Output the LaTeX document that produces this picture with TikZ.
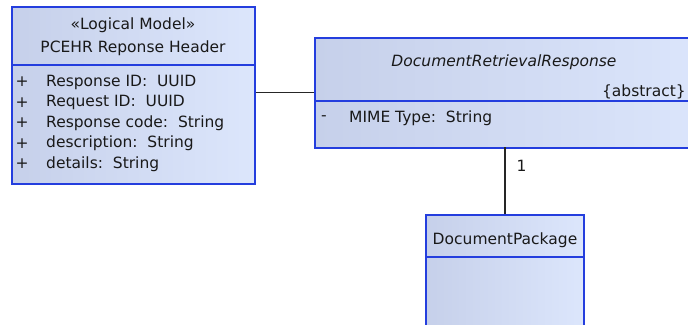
\documentclass[tikz,border=0pt]{standalone}
\usepackage{fontspec}
\setmainfont{DejaVu Sans}
\usetikzlibrary{positioning}

\definecolor{umlblue}{RGB}{36,62,222}
\definecolor{umlshade}{RGB}{198,208,234}
\definecolor{umlfill}{RGB}{220,230,252}

\tikzset{
	classbox/.style={rectangle, draw=umlblue, line width=1.8pt, left color=umlshade, right color=umlfill, inner sep=0pt, anchor=north west},
	divider/.style={draw=umlblue, line width=1.8pt},
	umltext/.style={inner sep=0pt, text=black!90, font=\fontsize{15.5}{18}\selectfont},
	attrtext/.style={umltext, anchor=west},
	assoc/.style={draw=black!85, line width=1.1pt}
}

\begin{document}
\begin{tikzpicture}[x=1pt, y=-1pt]
	\useasboundingbox (0,0) rectangle (688,324);
	\clip (0,0) rectangle (688,324);

	% logical model header
	\node (header) [classbox, minimum width=243pt, minimum height=177pt] at (11,6) {};
	\draw[divider] (header.west |- 0,65) -- (header.east |- 0,65);
	\node (hdrstereo) [umltext] at (133,25) {«Logical Model»};
	\node (hdrname) [umltext] at (133,48) {PCEHR Reponse Header};
	\foreach \attr [count=\i] in {Response ID:\ \ UUID, Request ID:\ \ UUID, Response code:\ \ String, description:\ \ String, details:\ \ String} {
		\node (vis\i) [umltext] at (22,61.5+20.5*\i) {+};
		\node (attr\i) [attrtext] at (46,61.5+20.5*\i) {\attr};
	}

	% retrieval response
	\node (resp) [classbox, minimum width=400pt, minimum height=110pt] at (314,37) {};
	\draw[divider] (resp.west |- 0,101) -- (resp.east |- 0,101);
	\node (respname) [umltext, font=\fontsize{15.5}{18}\selectfont\itshape] at (504,62) {DocumentRetrievalResponse};
	\node (respabs) [umltext, anchor=east] at (686,92) {\{abstract\}};
	\node (vis6) [umltext] at (324,118) {-};
	\node (attr6) [attrtext] at (349,118) {MIME Type:\ \ String};

	% document package
	\coordinate (linkend) at (505,147);
	\node (pkg) [classbox, minimum width=158pt, minimum height=140pt, below=67pt of linkend] {};
	\draw[divider] (pkg.west |- 0,257) -- (pkg.east |- 0,257);
	\node (pkgname) [umltext] at (pkg.north |- 0,240) {DocumentPackage};

	\path[assoc] (header.east |- resp.west) edge (resp.west)
	(linkend) edge node[umltext, pos=0.28, right=11pt] {1} (pkg.north);
\end{tikzpicture}
\end{document}
